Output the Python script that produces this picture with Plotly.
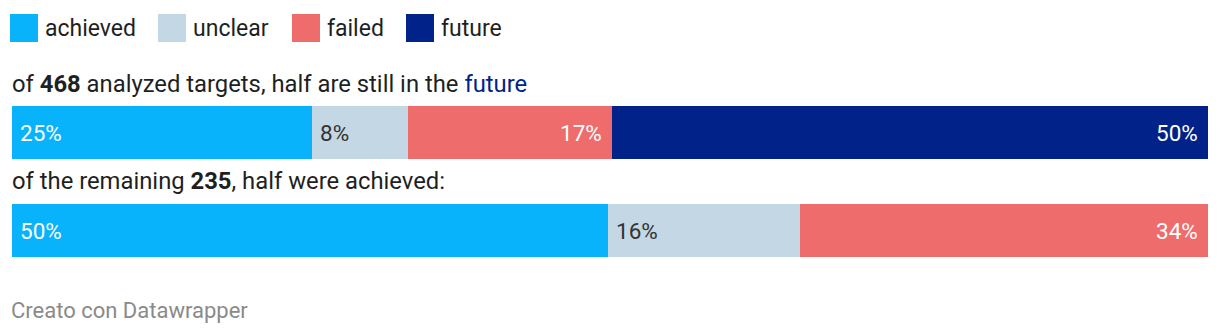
import plotly.graph_objects as go

W, H = 1220, 336
categories = ["achieved", "unclear", "failed", "future"]
colors = ["#08b3fc", "#c4d7e4", "#ef6c6d", "#012288"]
label_colors = ["#ffffff", "#333333", "#ffffff", "#ffffff"]
row1_values = [25.1, 8.0, 17.1, 49.8]   # of 468
row2_values = [49.8, 16.1, 34.1, 0.0]   # of 235
row1_labels = ["25%", "8%", "17%", "50%"]
row2_labels = ["50%", "16%", "34%", ""]
row_titles = ["of <b>468</b> analyzed targets, half are still in the <span style='color:#012288'>future</span>",
              "of the remaining <b>235</b>, half were achieved:"]
label_align = [["left", "left", "right", "right"], ["left", "left", "right", "right"]]

row_y = [132.5, 230.5]
bar_h = 53
FONT = "Roboto, sans-serif"

fig = go.Figure()
rows = [row1_values, row2_values]
labels = [row1_labels, row2_labels]
for i, cat in enumerate(categories):
    fig.add_trace(go.Bar(
        y=row_y, x=[rows[0][i], rows[1][i]], orientation="h", width=bar_h,
        marker=dict(color=colors[i], line=dict(width=0)), name=cat,
        showlegend=False, hoverinfo="skip"))

ann = []
for r in range(2):
    cum = 0
    vals = rows[r]
    for i, v in enumerate(vals):
        if v > 0 and labels[r][i]:
            if label_align[r][i] == "left":
                ann.append(dict(x=cum, y=row_y[r], xref="x", yref="y", text=labels[r][i],
                                xanchor="left", xshift=6, showarrow=False,
                                font=dict(family=FONT, size=22.5, color=label_colors[i])))
            else:
                ann.append(dict(x=cum + v, y=row_y[r], xref="x", yref="y", text=labels[r][i],
                                xanchor="right", xshift=-8, showarrow=False,
                                font=dict(family=FONT, size=22.5, color=label_colors[i])))
        cum += v

title_y = [84, 181]
for r in range(2):
    ann.append(dict(x=10 / W, y=title_y[r], xref="paper", yref="y", text=row_titles[r],
                    xanchor="left", yanchor="middle", showarrow=False,
                    font=dict(family=FONT, size=23.8, color="#1f1f1f")))

# legend
leg_x = [10, 158, 292, 406]
shapes = []
for i, cat in enumerate(categories):
    shapes.append(dict(type="rect", xref="paper", yref="y",
                       x0=leg_x[i] / W, x1=(leg_x[i] + 28) / W, y0=14, y1=42,
                       fillcolor=colors[i], line=dict(width=0)))
    ann.append(dict(x=(leg_x[i] + 33) / W, y=28, xref="paper", yref="y", text=cat,
                    xanchor="left", yanchor="middle", showarrow=False,
                    font=dict(family=FONT, size=23, color="#1f1f1f")))

ann.append(dict(x=9 / W, y=310, xref="paper", yref="y", text="Creato con Datawrapper",
                xanchor="left", yanchor="middle", showarrow=False,
                font=dict(family=FONT, size=22, color="#8a8a8a")))

fig.update_layout(
    width=W, height=H, barmode="stack", bargap=0,
    margin=dict(l=0, r=0, t=0, b=0), paper_bgcolor="white", plot_bgcolor="white",
    xaxis=dict(domain=[12 / W, 1208 / W], range=[0, 100], visible=False, fixedrange=True),
    yaxis=dict(domain=[0, 1], range=[H, 0], visible=False, fixedrange=True),
    annotations=ann, shapes=shapes, showlegend=False,
)
fig.write_html("out.html", config={"displayModeBar": False})
